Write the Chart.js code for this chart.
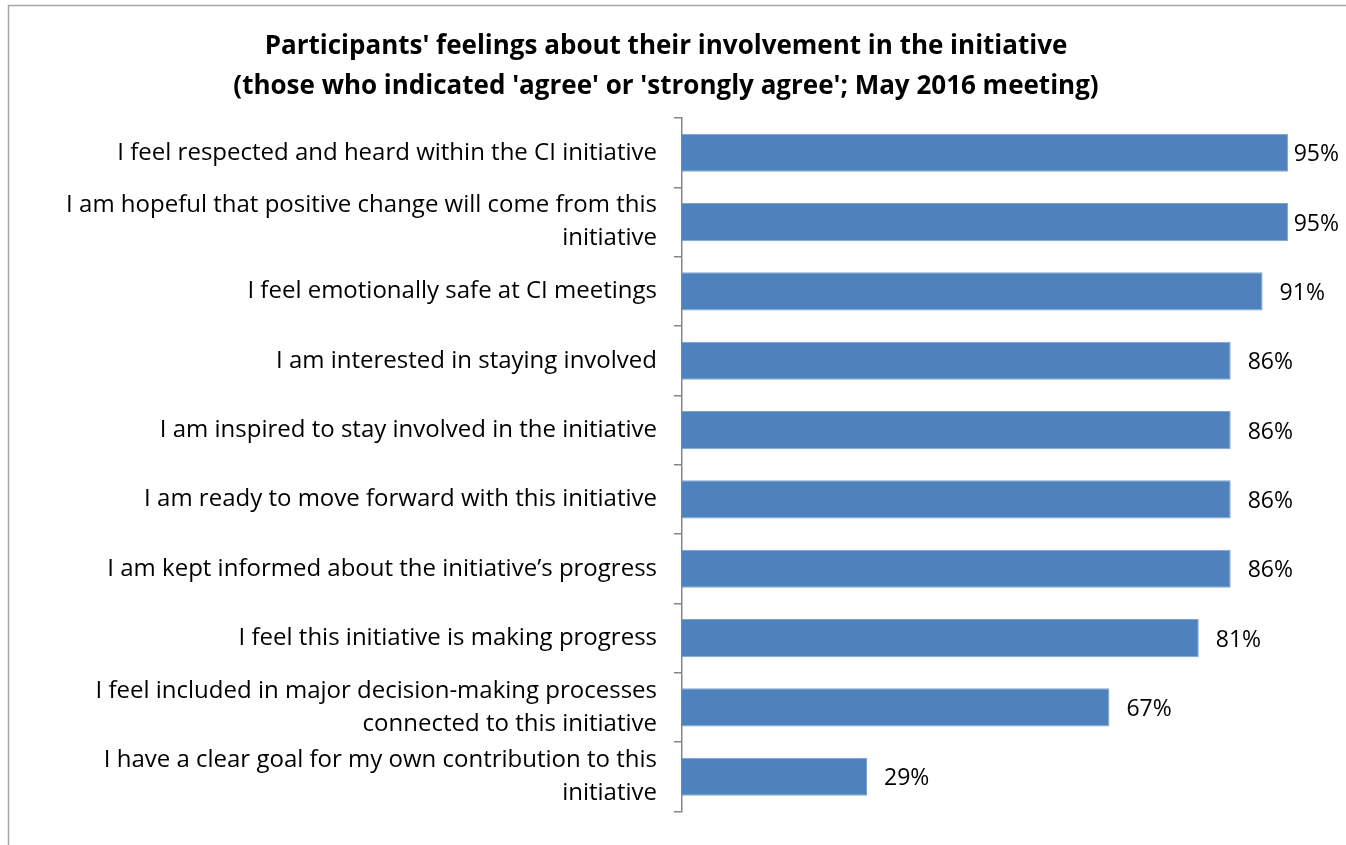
<!DOCTYPE html>
<html>
<head>
<meta charset="utf-8">
<script src="https://cdn.jsdelivr.net/npm/chart.js@4/dist/chart.umd.min.js"></script>
<style>
  html, body { margin: 0; padding: 0; background: #fff; }
  #wrap { width: 1346px; height: 845px; }
</style>
</head>
<body>
<div id="wrap"><canvas id="feelingsChart" width="1346" height="845"></canvas></div>
<script>
// Survey statements (multi-line where the original wraps)
const statements = [
  'I feel respected and heard within the CI initiative',
  ['I am hopeful that positive change will come from this', 'initiative'],
  'I feel emotionally safe at CI meetings',
  'I am interested in staying involved',
  'I am inspired to stay involved in the initiative',
  'I am ready to move forward with this initiative',
  'I am kept informed about the initiative\u2019s progress',
  'I feel this initiative is making progress',
  ['I feel included in major decision-making processes', 'connected to this initiative'],
  ['I have a clear goal for my own contribution to this', 'initiative']
];
// % who agreed or strongly agreed
const agreePct = [95, 95, 91, 86, 86, 86, 86, 81, 67, 29];
const titleLines = [
  "Participants' feelings about their involvement in the initiative",
  "(those who indicated 'agree' or 'strongly agree'; May 2016 meeting)"
];

const FONT = "'Open Sans', sans-serif";

// value labels after each bar, pulled in if they would run off the edge
const barLabels = {
  id: 'barLabels',
  afterDatasetsDraw(chart) {
    const ctx = chart.ctx;
    const meta = chart.getDatasetMeta(0);
    ctx.save();
    ctx.font = '23px ' + FONT;
    ctx.fillStyle = '#000';
    ctx.textAlign = 'left';
    ctx.textBaseline = 'middle';
    meta.data.forEach((bar, i) => {
      const txt = agreePct[i] + '%';
      const w = ctx.measureText(txt).width;
      const x = Math.min(bar.x + 17, chart.width - w - 7);
      ctx.fillText(txt, x, bar.y + 2);
    });
    ctx.restore();
  }
};

// grey frame like the original chart box
const frame = {
  id: 'frame',
  beforeDraw(chart) {
    const ctx = chart.ctx;
    ctx.save();
    ctx.strokeStyle = '#a6a6a6';
    ctx.lineWidth = 1.5;
    ctx.beginPath();
    ctx.moveTo(8.5, 845);
    ctx.lineTo(8.5, 5.5);
    ctx.lineTo(1346, 5.5);
    ctx.stroke();
    ctx.restore();
  }
};

window.onload = function () {
  const ctx = document.getElementById('feelingsChart').getContext('2d');
  new Chart(ctx, {
    type: 'bar',
    data: {
      labels: statements,
      datasets: [{
        data: agreePct,
        backgroundColor: '#4f81bd',
        borderColor: '#7ea3cf',
        borderWidth: 1,
        categoryPercentage: 0.55,
        barPercentage: 1
      }]
    },
    options: {
      indexAxis: 'y',
      responsive: false,
      animation: false,
      layout: { padding: { left: 12, right: 26, bottom: 23, top: 0 } },
      plugins: {
        legend: { display: false },
        tooltip: { enabled: false },
        title: {
          display: true,
          text: titleLines,
          color: '#000',
          font: { family: FONT, size: 26, weight: 'bold', lineHeight: 1.54 },
          padding: { top: 27, bottom: 11 }
        }
      },
      scales: {
        x: {
          display: false,
          min: 0,
          max: 100
        },
        y: {
          afterFit(scale) { scale.width = 670; },
          grid: {
            drawOnChartArea: false,
            drawTicks: true,
            tickLength: 8,
            color: '#868686',
            lineWidth: 1.5
          },
          border: { display: true, color: '#868686', width: 1.5 },
          ticks: {
            color: '#000',
            padding: 17,
            font: { family: FONT, size: 24, lineHeight: 1.38 }
          }
        }
      }
    },
    plugins: [barLabels, frame]
  });
};
</script>
</body>
</html>
